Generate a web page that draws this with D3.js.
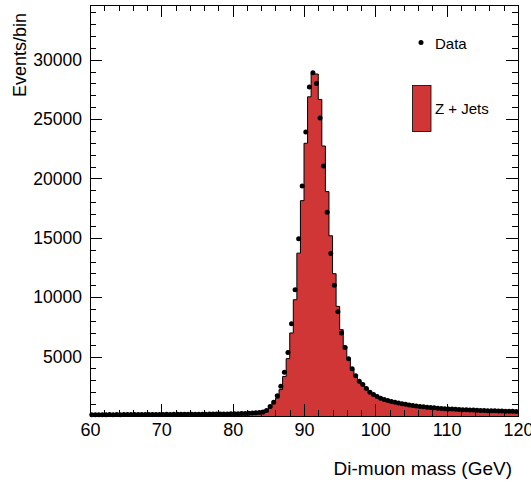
<!DOCTYPE html>
<html>
<head>
<meta charset="utf-8">
<script src="https://cdn.jsdelivr.net/npm/d3@7"></script>
<style>
  html, body { margin: 0; padding: 0; background: #ffffff; }
  svg { display: block; font-family: "Liberation Sans", Arial, Helvetica, sans-serif; }
</style>
</head>
<body>
<svg id="chart" width="531" height="487"></svg>
<script>
// Di-muon invariant mass, 0.5 GeV bins from 60 to 120 GeV
const binLow = d3.range(60, 120, 0.5);
const binWidth = 0.5;

// Observed events per bin
const dataCounts = [
  110, 105, 115, 108, 112, 118, 110, 120, 114, 122,
  118, 125, 120, 128, 124, 130, 126, 132, 128, 135,
  132, 138, 134, 140, 137, 144, 140, 147, 143, 150,
  148, 155, 152, 160, 158, 166, 164, 172, 172, 180,
  186, 196, 205, 216, 230, 248, 268, 292,
  330, 470, 810, 1160,
  1700, 2500, 3680, 5340,
  7770, 10630, 14920, 19370,
  23910, 27690, 28900, 28000,
  25080, 21050, 17160, 13680,
  11000, 8780, 6990, 5760,
  4810, 3970, 3380, 2920,
  2650, 2310, 2000, 1810,
  1640, 1500, 1390, 1300,
  1220, 1160, 1090, 1030,
  980, 935, 890, 850,
  810, 775, 740, 712,
  688, 662, 640, 618,
  598, 580, 562, 548,
  532, 520, 508, 496,
  484, 472, 462, 452,
  442, 434, 425, 417,
  410, 402, 396, 388
];

// Simulated Z + Jets events per bin
const zjetsCounts = [
  70, 72, 74, 76, 78, 80, 82, 84, 86, 88,
  90, 92, 94, 96, 98, 100, 102, 104, 106, 108,
  110, 112, 115, 118, 121, 124, 127, 130, 133, 136,
  140, 144, 148, 152, 156, 160, 165, 170, 175, 180,
  186, 193, 200, 208, 212, 225, 240, 262,
  300, 430, 720, 1050,
  1500, 2220, 3330, 4830,
  6990, 9790, 13710, 18130,
  22960, 26870, 28840, 28790,
  26650, 22730, 18890, 15170,
  11980, 9230, 7270, 5870,
  4760, 3950, 3340, 2890,
  2590, 2280, 1970, 1770,
  1600, 1460, 1350, 1260,
  1180, 1120, 1055, 1000,
  950, 905, 862, 825,
  790, 755, 722, 694,
  668, 645, 622, 602,
  582, 565, 548, 534,
  520, 507, 495, 484,
  472, 461, 451, 442,
  433, 425, 417, 409,
  402, 395, 388, 382
];

const xMajorTicks = [60, 70, 80, 90, 100, 110, 120];
const xMinorTicks = d3.range(60, 121, 2);
const yMajorTicks = [5000, 10000, 15000, 20000, 25000, 30000];
const yMinorTicks = d3.range(0, 34001, 1000);

const legendLabels = ["Data", "Z + Jets"];
const xTitle = "Di-muon mass (GeV)";
const yTitle = "Events/bin";

const svg = d3.select("#chart");
const frame = { left: 90, right: 518, top: 5, bottom: 416 };

const x = d3.scaleLinear().domain([60, 120]).range([frame.left, frame.right]);
const y = d3.scaleLinear().domain([0, 34600]).range([frame.bottom, frame.top]);

const bins = binLow.map((lo, i) => ({ lo, hi: lo + binWidth, mc: zjetsCounts[i], data: dataCounts[i] }));

// Step outline points for the simulated histogram
const stepPts = [];
bins.forEach(b => { stepPts.push([b.lo, b.mc]); stepPts.push([b.hi, b.mc]); });

const area = d3.area()
  .x(d => x(d[0]))
  .y0(y(0))
  .y1(d => y(d[1]));
const line = d3.line()
  .x(d => x(d[0]))
  .y(d => y(d[1]));

const plot = svg.append("g");
plot.append("path")
  .datum(stepPts)
  .attr("d", area)
  .attr("fill", "#d03636");
plot.append("path")
  .datum(stepPts)
  .attr("d", line)
  .attr("fill", "none")
  .attr("stroke", "#000")
  .attr("stroke-width", 1);

// Data points
plot.append("g").selectAll("circle")
  .data(bins)
  .join("circle")
  .attr("cx", d => x((d.lo + d.hi) / 2))
  .attr("cy", d => y(d.data))
  .attr("r", 2.5)
  .attr("fill", "#000");

// Axes with inward ticks on all four sides
function styleAxis(g) {
  g.select(".domain").remove();
  g.selectAll(".tick line").attr("stroke", "#000").attr("shape-rendering", "crispEdges");
  g.selectAll(".tick text").attr("fill", "#000");
}

const bottomMajor = d3.axisBottom(x).tickValues(xMajorTicks).tickSizeInner(-12).tickSizeOuter(0).tickPadding(7).tickFormat(d3.format("d"));
const bottomMinor = d3.axisBottom(x).tickValues(xMinorTicks).tickSizeInner(-6).tickSizeOuter(0).tickFormat("");
const topMajor = d3.axisTop(x).tickValues(xMajorTicks).tickSizeInner(-12).tickSizeOuter(0).tickFormat("");
const topMinor = d3.axisTop(x).tickValues(xMinorTicks).tickSizeInner(-6).tickSizeOuter(0).tickFormat("");
const leftMajor = d3.axisLeft(y).tickValues(yMajorTicks).tickSizeInner(-12).tickSizeOuter(0).tickPadding(8).tickFormat(d3.format("d"));
const leftMinor = d3.axisLeft(y).tickValues(yMinorTicks).tickSizeInner(-6).tickSizeOuter(0).tickFormat("");
const rightMajor = d3.axisRight(y).tickValues(yMajorTicks).tickSizeInner(-12).tickSizeOuter(0).tickFormat("");
const rightMinor = d3.axisRight(y).tickValues(yMinorTicks).tickSizeInner(-6).tickSizeOuter(0).tickFormat("");

const gB = svg.append("g").attr("transform", `translate(0,${frame.bottom})`);
gB.append("g").call(bottomMinor).call(styleAxis);
gB.append("g").call(bottomMajor).call(styleAxis)
  .selectAll(".tick text").attr("font-size", 18).attr("font-family", "Liberation Sans, Arial, sans-serif");

const gT = svg.append("g").attr("transform", `translate(0,${frame.top})`);
gT.append("g").call(topMinor).call(styleAxis);
gT.append("g").call(topMajor).call(styleAxis);

const gL = svg.append("g").attr("transform", `translate(${frame.left},0)`);
gL.append("g").call(leftMinor).call(styleAxis);
gL.append("g").call(leftMajor).call(styleAxis)
  .selectAll(".tick text").attr("font-size", 17.5).attr("font-family", "Liberation Sans, Arial, sans-serif");

const gR = svg.append("g").attr("transform", `translate(${frame.right},0)`);
gR.append("g").call(rightMinor).call(styleAxis);
gR.append("g").call(rightMajor).call(styleAxis);

// Frame
svg.append("rect")
  .attr("x", frame.left).attr("y", frame.top)
  .attr("width", frame.right - frame.left).attr("height", frame.bottom - frame.top)
  .attr("fill", "none").attr("stroke", "#000").attr("stroke-width", 1)
  .attr("shape-rendering", "crispEdges");

// Axis titles
svg.append("text")
  .attr("x", 512).attr("y", 475)
  .attr("text-anchor", "end")
  .attr("font-size", 19)
  .attr("fill", "#000")
  .text(xTitle);

svg.append("text")
  .attr("transform", "translate(25.5,13) rotate(-90)")
  .attr("text-anchor", "end")
  .attr("font-size", 18)
  .attr("fill", "#000")
  .text(yTitle);

// Legend
const legend = svg.append("g");
legend.append("circle").attr("cx", 421).attr("cy", 42.5).attr("r", 2.5).attr("fill", "#000");
legend.append("text").attr("x", 435).attr("y", 48.5).attr("font-size", 15).attr("fill", "#000").text(legendLabels[0]);
legend.append("rect").attr("x", 412.5).attr("y", 85.5).attr("width", 18.5).attr("height", 46)
  .attr("fill", "#d03636").attr("stroke", "#000").attr("stroke-width", 0.8);
legend.append("text").attr("x", 435).attr("y", 113.5).attr("font-size", 15).attr("fill", "#000").text(legendLabels[1]);
</script>
</body>
</html>
